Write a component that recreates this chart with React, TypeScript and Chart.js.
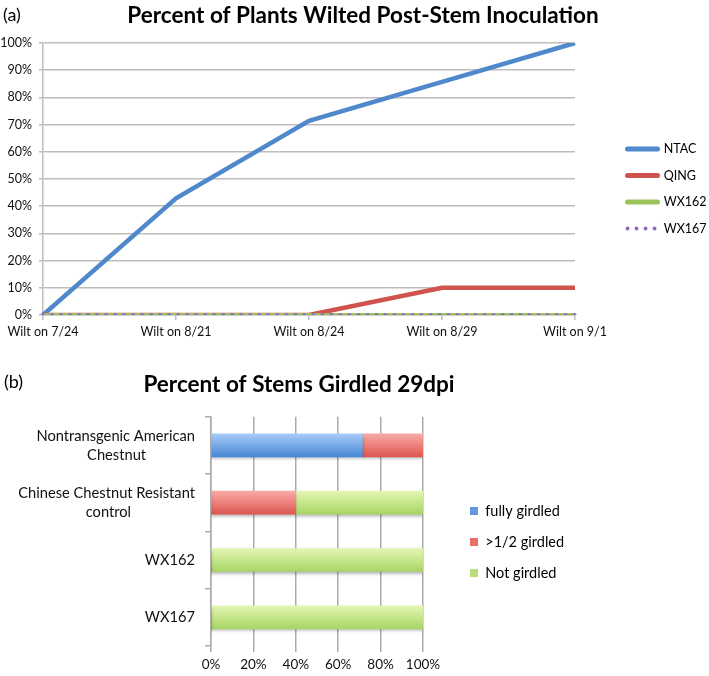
import React, { useEffect, useRef } from 'react';
import { Chart, registerables } from 'chart.js';

Chart.register(...registerables);

const FONT = 'Lato, "Open Sans", "DejaVu Sans", sans-serif';

// ---------- Chart (a): percent of plants wilted ----------
const wiltDates = ['Wilt on 7/24', 'Wilt on 8/21', 'Wilt on 8/24', 'Wilt on 8/29', 'Wilt on 9/1'];
const wiltNTAC = [0, 42.9, 71.4, 85.7, 100];
const wiltQING = [0, 0, 0, 10, 10];
const wiltWX162 = [0, 0, 0, 0, 0];
const wiltWX167 = [0, 0, 0, 0, 0];
const wiltSeriesNames = ['NTAC', 'QING', 'WX162', 'WX167'];

// ---------- Chart (b): percent of stems girdled ----------
const stemGroups = [
  ['Nontransgenic American', 'Chestnut'],
  ['Chinese Chestnut Resistant', 'control'],
  ['WX162'],
  ['WX167'],
];
const girdleNames = ['fully girdled', '>1/2 girdled', 'Not girdled'];
const fullyGirdled = [71.4, 0, 0, 0];
const halfGirdled = [28.6, 40, 0, 0];
const notGirdled = [0, 60, 100, 100];

// ---------- styles ----------
const BLUE = '#4F89CB';
const RED = '#D0534E';
const GREEN = '#9BC35A';
const PURPLE = '#8E6CB8';
const GRID_A = '#BDBDBD';
const GRID_B = '#ABABAB';
const BAR_H = 23;
const BAR_TOP = ['#A6CCF7', '#F8AAA6', '#E3F6B2'];
const BAR_BOTTOM = ['#4787D6', '#DE5650', '#A8D565'];
const BAR_SOLID = ['#5E9BE0', '#E8716C', '#B8DD7C'];

const placeBoxes = {
  id: 'placeBoxes',
  afterLayout(chart: any, _args: any, opts: any) {
    const t = chart.titleBlock;
    if (t && opts.titleCenterX != null) {
      const w = t.right - t.left;
      t.left = opts.titleCenterX - w / 2;
      t.right = t.left + w;
    }
    const lg = chart.legend;
    if (lg && opts.legendX != null) {
      const pad = lg.options.labels.padding;
      const fs = lg.options.labels.font.size;
      const w = lg.width;
      const h = lg.height;
      lg.left = opts.legendX - pad;
      lg.right = lg.left + w;
      lg.top = opts.legendY - pad - fs / 2;
      lg.bottom = lg.top + h;
    }
  },
};

const barShadow = {
  id: 'barShadow',
  beforeDatasetsDraw(chart: any) {
    const ctx = chart.ctx;
    ctx.save();
    ctx.shadowColor = 'rgba(0,0,0,0.28)';
    ctx.shadowBlur = 3;
    ctx.shadowOffsetY = 2;
  },
  afterDatasetsDraw(chart: any) {
    chart.ctx.restore();
  },
};

function centerLines(lines: string[], font: string): string | string[] {
  if (lines.length === 1) return lines[0];
  const ctx = document.createElement('canvas').getContext('2d') as CanvasRenderingContext2D;
  ctx.font = font;
  const ws = lines.map((l) => ctx.measureText(l).width);
  const max = Math.max(...ws);
  const sp = ctx.measureText(' ').width || 3.5;
  return lines.map((l, i) => l + ' '.repeat(Math.round((max - ws[i]) / 2 / sp)));
}

function barGradient(i: number) {
  return (c: any) => {
    const chart = c.chart;
    const ys = chart.scales && chart.scales.y;
    if (c.type !== 'data' || !ys || !chart.chartArea) return BAR_SOLID[i];
    const cy = ys.getPixelForValue(c.dataIndex);
    const g = chart.ctx.createLinearGradient(0, cy - BAR_H / 2, 0, cy + BAR_H / 2);
    g.addColorStop(0, BAR_TOP[i]);
    g.addColorStop(1, BAR_BOTTOM[i]);
    return g;
  };
}

export default function App() {
  const lineRef = useRef<HTMLCanvasElement | null>(null);
  const barRef = useRef<HTMLCanvasElement | null>(null);

  useEffect(() => {
    const lineChart = new Chart(lineRef.current as HTMLCanvasElement, {
      type: 'line',
      data: {
        labels: wiltDates,
        datasets: [
          { label: wiltSeriesNames[0], data: wiltNTAC, borderColor: BLUE, backgroundColor: BLUE, borderWidth: 4.5, order: 4 },
          { label: wiltSeriesNames[1], data: wiltQING, borderColor: RED, backgroundColor: RED, borderWidth: 4.5, order: 3 },
          { label: wiltSeriesNames[2], data: wiltWX162, borderColor: GREEN, backgroundColor: GREEN, borderWidth: 4, order: 2 },
          {
            label: wiltSeriesNames[3], data: wiltWX167, borderColor: PURPLE, backgroundColor: PURPLE, borderWidth: 4,
            borderDash: [0.01, 9], borderCapStyle: 'round', order: 1,
          },
        ] as any,
      },
      options: {
        animation: false,
        responsive: false,
        layout: { padding: { left: 0, right: 134, top: 0, bottom: 0 } },
        elements: { point: { radius: 0, hoverRadius: 0 }, line: { tension: 0, fill: false } },
        scales: {
          x: {
            type: 'category',
            offset: false,
            grid: { drawOnChartArea: false, color: GRID_A, lineWidth: 1.5, tickLength: 5 },
            border: { color: GRID_A, width: 1.5 },
            ticks: { font: { family: FONT, size: 12.5 }, color: '#111', padding: 4, maxRotation: 0, autoSkip: false },
            afterFit: (s: any) => { s.height = 30; },
          },
          y: {
            min: 0,
            max: 100,
            ticks: { stepSize: 10, callback: (v: any) => v + '%', font: { family: FONT, size: 12.5 }, color: '#111', padding: 7 },
            grid: { color: GRID_A, lineWidth: 1.5, tickLength: 4 },
            border: { color: GRID_A, width: 1.5 },
            afterFit: (s: any) => { s.width = 43; },
          },
        },
        plugins: {
          title: {
            display: true,
            text: 'Percent of Plants Wilted Post-Stem Inoculation',
            font: { family: FONT, size: 22.5, weight: 'bold' },
            color: '#000',
            padding: { top: 2.5, bottom: 13.5 },
          },
          legend: {
            position: 'chartArea',
            align: 'start',
            labels: {
              usePointStyle: true,
              pointStyle: 'line',
              pointStyleWidth: 30,
              font: { family: FONT, size: 12.5 },
              color: '#000',
              padding: 14,
              sort: (a: any, b: any) => a.datasetIndex - b.datasetIndex,
              generateLabels: (chart: any) =>
                (Chart.defaults.plugins.legend.labels.generateLabels as any)(chart).map((l: any) => {
                  const ds = chart.data.datasets[l.datasetIndex];
                  return {
                    ...l,
                    strokeStyle: ds.borderColor,
                    lineWidth: ds.borderDash ? 4 : 5,
                    lineDash: ds.borderDash || [],
                    lineCap: 'round',
                  };
                }),
            },
          },
          tooltip: { enabled: false },
          placeBoxes: { titleCenterX: 363, legendX: 627.5, legendY: 149 },
        } as any,
      },
      plugins: [placeBoxes],
    } as any);

    const labelFont = `14.7px ${FONT}`;
    const yLabels = stemGroups.map((g) => centerLines(g, labelFont));

    const barChart = new Chart(barRef.current as HTMLCanvasElement, {
      type: 'bar',
      data: {
        labels: yLabels,
        datasets: [
          { label: girdleNames[0], data: fullyGirdled, backgroundColor: barGradient(0), barThickness: BAR_H, borderWidth: 0 },
          { label: girdleNames[1], data: halfGirdled, backgroundColor: barGradient(1), barThickness: BAR_H, borderWidth: 0 },
          { label: girdleNames[2], data: notGirdled, backgroundColor: barGradient(2), barThickness: BAR_H, borderWidth: 0 },
        ] as any,
      },
      options: {
        indexAxis: 'y',
        animation: false,
        responsive: false,
        layout: { padding: { left: 0, right: 286, top: 0, bottom: 0 } },
        scales: {
          x: {
            stacked: true,
            min: 0,
            max: 100,
            ticks: { stepSize: 20, callback: (v: any) => v + '%', font: { family: FONT, size: 13.5 }, color: '#111', padding: 5 },
            grid: { color: GRID_B, lineWidth: 1.5, tickLength: 6 },
            border: { display: false },
            afterFit: (s: any) => { s.height = 30; },
          },
          y: {
            stacked: true,
            grid: { drawOnChartArea: false, offset: true, tickLength: 6, color: GRID_B, lineWidth: 1.5 },
            border: { color: GRID_B, width: 1.5 },
            ticks: { font: { family: FONT, size: 14.7, lineHeight: 1.3 }, color: '#111', padding: 10, autoSkip: false },
            afterFit: (s: any) => { s.width = 211; },
          },
        },
        plugins: {
          title: {
            display: true,
            text: 'Percent of Stems Girdled 29dpi',
            font: { family: FONT, size: 22.5, weight: 'bold' },
            color: '#000',
            padding: { top: 26.5, bottom: 18.2 },
          },
          legend: {
            position: 'chartArea',
            align: 'start',
            labels: {
              boxWidth: 8,
              boxHeight: 8,
              font: { family: FONT, size: 14.5 },
              color: '#000',
              padding: 16.5,
              generateLabels: (chart: any) =>
                (Chart.defaults.plugins.legend.labels.generateLabels as any)(chart).map((l: any) => ({
                  ...l,
                  fillStyle: BAR_SOLID[l.datasetIndex],
                  strokeStyle: BAR_SOLID[l.datasetIndex],
                  lineWidth: 0,
                })),
            },
          },
          tooltip: { enabled: false },
          placeBoxes: { titleCenterX: 299, legendX: 470, legendY: 166 },
        } as any,
      },
      plugins: [placeBoxes, barShadow],
    } as any);

    return () => {
      lineChart.destroy();
      barChart.destroy();
    };
  }, []);

  const tag: React.CSSProperties = {
    position: 'absolute',
    fontFamily: FONT,
    fontSize: 18,
    lineHeight: '18px',
    color: '#000',
  };

  return (
    <div style={{ position: 'absolute', left: 0, top: 0, width: 709, height: 676, overflow: 'hidden', background: '#fff' }}>
      <canvas ref={lineRef} width={709} height={345} style={{ position: 'absolute', left: 0, top: 0, width: 709, height: 345 }} />
      <canvas ref={barRef} width={709} height={331} style={{ position: 'absolute', left: 0, top: 345, width: 709, height: 331 }} />
      <div style={{ ...tag, left: 3, top: 5 }}>(a)</div>
      <div style={{ ...tag, left: 4, top: 372 }}>(b)</div>
    </div>
  );
}
